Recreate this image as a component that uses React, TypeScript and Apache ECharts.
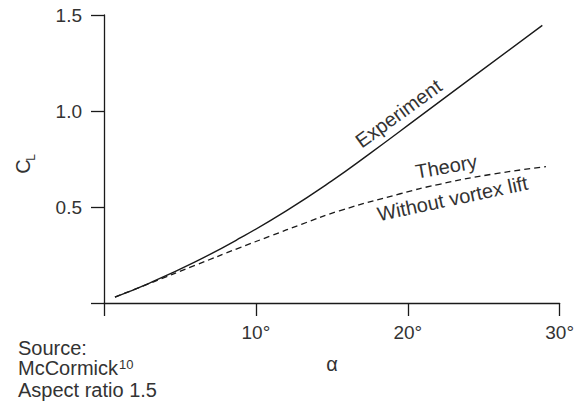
import React, { useEffect, useRef } from "react";
import * as echarts from "echarts";

// Angle of attack (deg) and lift coefficient readings
const experimentAlpha = [0.72, 3, 6, 9, 12, 15, 17.5, 20.6, 24, 28.86];
const experimentCL = [0.031, 0.104, 0.214, 0.34, 0.48, 0.636, 0.778, 0.96, 1.161, 1.446];

const theoryAlpha = [0.72, 3, 6, 9, 11, 13, 15.5, 19.5, 22, 25.5, 29.1];
const theoryCL = [0.031, 0.102, 0.196, 0.29, 0.35, 0.41, 0.48, 0.569, 0.617, 0.67, 0.71];

const xTickValues = [0, 10, 20, 30];
const yTickValues = [0, 0.5, 1.0, 1.5];

const FONT = "'Liberation Sans', Arial, Helvetica, sans-serif";
const TEXT = "#333";
const LINE = "#1a1a1a";

export default function App() {
  const ref = useRef<HTMLDivElement>(null);

  useEffect(() => {
    if (!ref.current) return;
    const chart = echarts.init(ref.current, undefined, { renderer: "svg" });
    const deg = Math.PI / 180;
    chart.setOption({
      animation: false,
      backgroundColor: "#fff",
      grid: { left: 104, right: 17, top: 15, bottom: 98, containLabel: false },
      xAxis: {
        type: "value",
        min: xTickValues[0],
        max: xTickValues[xTickValues.length - 1],
        interval: 10,
        axisLine: { show: true, onZero: false, lineStyle: { color: LINE, width: 1.3 } },
        axisTick: { show: true, length: 13, lineStyle: { color: LINE, width: 1.3 } },
        splitLine: { show: false },
        axisLabel: {
          margin: 20,
          fontSize: 19,
          fontFamily: FONT,
          color: TEXT,
          formatter: (v: number) => (v === 0 ? "" : `${v}°`),
        },
      },
      yAxis: {
        type: "value",
        min: yTickValues[0],
        max: yTickValues[yTickValues.length - 1],
        interval: 0.5,
        axisLine: { show: true, onZero: false, lineStyle: { color: LINE, width: 1.3 } },
        axisTick: { show: true, length: 13, lineStyle: { color: LINE, width: 1.3 } },
        splitLine: { show: false },
        axisLabel: {
          margin: 22,
          fontSize: 19,
          fontFamily: FONT,
          color: TEXT,
          formatter: (v: number) => (v === 0 ? "" : v.toFixed(1)),
        },
      },
      series: [
        {
          name: "Experiment",
          type: "line",
          smooth: true,
          showSymbol: false,
          data: experimentAlpha.map((a, i) => [a, experimentCL[i]]),
          lineStyle: { color: LINE, width: 1.4 },
        },
        {
          name: "Theory",
          type: "line",
          smooth: true,
          showSymbol: false,
          data: theoryAlpha.map((a, i) => [a, theoryCL[i]]),
          lineStyle: { color: LINE, width: 1.3, type: [6, 4] },
        },
      ],
      graphic: [
        {
          type: "group",
          x: 22.5,
          y: 166.5,
          rotation: Math.PI / 2,
          children: [
            {
              type: "text",
              x: 0,
              y: 0,
              style: { text: "C", fontSize: 20, fontFamily: FONT, fill: TEXT, align: "center", verticalAlign: "middle" },
            },
            {
              type: "text",
              x: 9,
              y: 8,
              style: { text: "L", fontSize: 12, fontFamily: FONT, fill: TEXT, align: "center", verticalAlign: "middle" },
            },
          ],
        },
        {
          type: "text",
          x: 332,
          y: 364,
          style: { text: "α", fontSize: 20, fontFamily: FONT, fill: TEXT, align: "center", verticalAlign: "middle" },
        },
        {
          type: "text",
          x: 398.5,
          y: 113.4,
          rotation: 36 * deg,
          style: { text: "Experiment", fontSize: 20, fontFamily: FONT, fill: TEXT, align: "center", verticalAlign: "middle" },
        },
        {
          type: "text",
          x: 446.3,
          y: 166.5,
          rotation: 10 * deg,
          style: { text: "Theory", fontSize: 20, fontFamily: FONT, fill: TEXT, align: "center", verticalAlign: "middle" },
        },
        {
          type: "text",
          x: 452.5,
          y: 198.5,
          rotation: 12 * deg,
          style: { text: "Without vortex lift", fontSize: 20, fontFamily: FONT, fill: TEXT, align: "center", verticalAlign: "middle" },
        },
        {
          type: "text",
          x: 18,
          y: 348,
          style: { text: "Source:", fontSize: 20, fontFamily: FONT, fill: TEXT, align: "left", verticalAlign: "middle" },
        },
        {
          type: "text",
          x: 18,
          y: 368,
          style: { text: "McCormick", fontSize: 20, fontFamily: FONT, fill: TEXT, align: "left", verticalAlign: "middle" },
        },
        {
          type: "text",
          x: 119,
          y: 364,
          style: { text: "10", fontSize: 13, fontFamily: FONT, fill: TEXT, align: "left", verticalAlign: "middle" },
        },
        {
          type: "text",
          x: 18,
          y: 389.5,
          style: { text: "Aspect ratio 1.5", fontSize: 20, fontFamily: FONT, fill: TEXT, align: "left", verticalAlign: "middle" },
        },
      ],
    });
    return () => chart.dispose();
  }, []);

  return (
    <div
      ref={ref}
      style={{ position: "fixed", left: 0, top: 0, width: 577, height: 401, background: "#fff" }}
    />
  );
}
